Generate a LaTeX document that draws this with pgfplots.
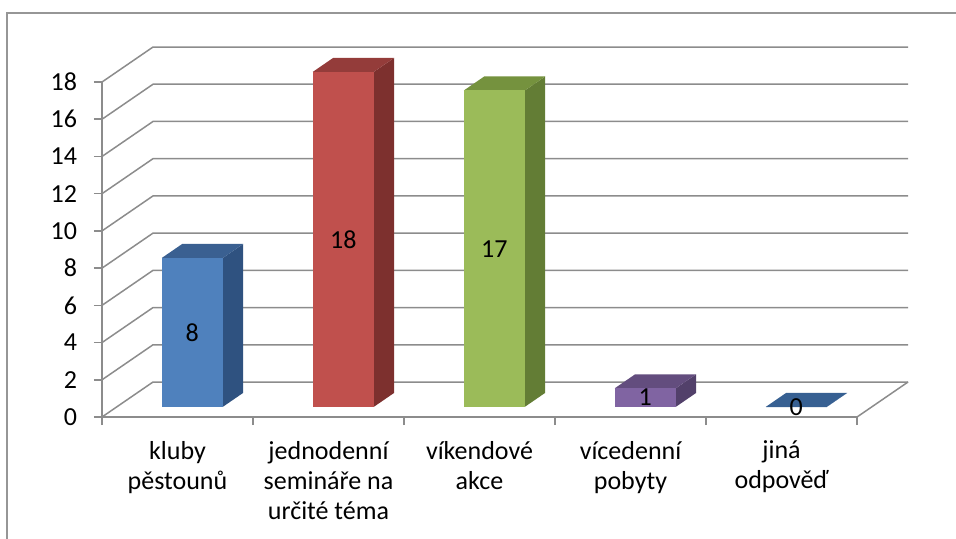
\documentclass[border=0pt]{standalone}
\usepackage{pgfplots}
\pgfplotsset{compat=1.18}
\usepackage{fontspec}
\setmainfont{Carlito}
\definecolor{gridc}{RGB}{140,140,140}
\definecolor{framec}{RGB}{150,150,150}
\definecolor{bluef}{RGB}{79,129,189}
\definecolor{blues}{RGB}{47,82,128}
\definecolor{bluet}{RGB}{58,96,145}
\definecolor{redf}{RGB}{192,80,77}
\definecolor{reds}{RGB}{125,48,46}
\definecolor{redt}{RGB}{148,60,58}
\definecolor{greenf}{RGB}{155,187,89}
\definecolor{greens}{RGB}{99,125,53}
\definecolor{greent}{RGB}{117,146,62}
\definecolor{purplef}{RGB}{128,100,162}
\definecolor{purples}{RGB}{82,64,106}
\definecolor{purplet}{RGB}{99,77,126}
\definecolor{zeroc}{RGB}{55,96,146}
\newcommand{\lblfont}{\fontsize{13}{15}\selectfont}
% #1 left x, #2 right x, #3 value, #4 front, #5 side, #6 top
\newcommand{\threedbar}[6]{%
  \addplot3[fill=#5, draw=none, mark=none] coordinates {(#2,0.29,0) (#2,0.69,0) (#2,0.69,#3) (#2,0.29,#3)};
  \addplot3[fill=#6, draw=none, mark=none] coordinates {(#1,0.29,#3) (#2,0.29,#3) (#2,0.69,#3) (#1,0.69,#3)};
  \addplot3[fill=#4, draw=none, mark=none] coordinates {(#1,0.29,0) (#2,0.29,0) (#2,0.29,#3) (#1,0.29,#3)};
}
\begin{document}
\begin{tikzpicture}
\useasboundingbox (-51pt,-60.5pt) rectangle (427pt,208.5pt);
\draw[framec, line width=0.75pt] (-47.5pt,-70pt) -- (-47.5pt,202pt) -- (440pt,202pt);
% 3D part: walls, floor, bars
\begin{axis}[
  at={(0pt,0pt)}, anchor=origin,
  x={(75.5pt,0pt)}, y={(25.5pt,17.5pt)}, z={(0pt,9.305pt)},
  xmin=0, xmax=5, ymin=0, ymax=1, zmin=0, zmax=18,
  hide axis, clip=false,
]
\pgfplotsinvokeforeach{0,2,...,18}{
  \addplot3[gridc, line width=0.75pt, mark=none] coordinates {(0,0,#1) (0,1,#1) (5,1,#1)};
}
\addplot3[gridc, line width=0.75pt, mark=none] coordinates {(5,1,0) (5,0,0)};
\threedbar{0.298}{0.702}{8}{bluef}{blues}{bluet}
\threedbar{1.298}{1.702}{18}{redf}{reds}{redt}
\threedbar{2.298}{2.702}{17}{greenf}{greens}{greent}
\threedbar{3.298}{3.702}{1}{purplef}{purples}{purplet}
\threedbar{4.298}{4.702}{0}{zeroc}{zeroc}{zeroc}
\node[font=\lblfont] at (axis cs:0.5,0.29,4) {8};
\node[font=\lblfont] at (axis cs:1.5,0.29,9) {18};
\node[font=\lblfont] at (axis cs:2.5,0.29,8.5) {17};
\node[font=\lblfont] at (axis cs:3.5,0.29,0.5) {1};
\node[font=\lblfont] at (axis cs:4.5,0.29,0) {0};
\end{axis}
% 2D part: front axes, ticks and labels
\begin{axis}[
  at={(0pt,0pt)}, anchor=origin,
  x={(75.5pt,0pt)}, y={(0pt,9.305pt)},
  xmin=0, xmax=5, ymin=0, ymax=18,
  axis x line*=bottom, axis y line*=left,
  axis line style={gridc, line width=0.75pt},
  tick style={gridc, line width=0.75pt},
  tick align=outside, major tick length=4pt,
  xtick={0,1,2,3,4,5}, ytick={0,2,...,18},
  x tick label as interval,
  xticklabels={{kluby\\pěstounů},{jednodenní\\semináře na\\určité téma},{víkendové\\akce},{vícedenní\\pobyty},{jiná\\odpověď}},
  xticklabel style={align=center, font=\lblfont, text=black, yshift=-4.5pt},
  yticklabel style={font=\lblfont, text=black, xshift=-5pt},
  /pgf/number format/assume math mode=true,
]
\end{axis}
\end{tikzpicture}
\end{document}
